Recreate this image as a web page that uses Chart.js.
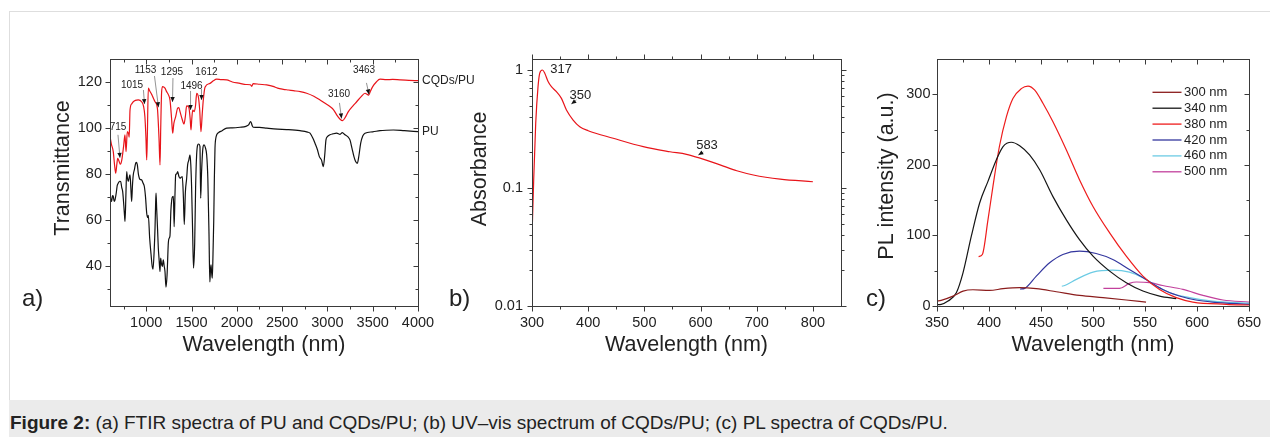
<!DOCTYPE html>
<html>
<head>
<meta charset="utf-8">
<script src="https://cdn.jsdelivr.net/npm/chart.js@4.4.1/dist/chart.umd.min.js"></script>
<style>
  body { margin: 0; width: 1270px; height: 437px; overflow: hidden; background: #fff; position: relative;
         font-family: "Liberation Sans", Arial, sans-serif; color: #222; }
  .box { position: absolute; left: 9px; top: 11px; width: 1300px; height: 440px;
         border-top: 1px solid #dedede; border-left: 1px solid #dedede; }
  .caption { position: absolute; left: 9px; top: 400px; width: 1261px; height: 37px; background: #ebebeb; }
  .caption p { margin: 0; position: absolute; left: 1px; top: 13px; font-size: 19px; line-height: 20px; white-space: nowrap; }
  canvas { position: absolute; top: 0; }
  .tag { position: absolute; font-size: 24px; line-height: 24px; top: 286px; }
</style>
</head>
<body>
<div class="box"></div>
<canvas id="figA" width="490" height="360" style="left:0"></canvas>
<canvas id="figB" width="440" height="360" style="left:430px"></canvas>
<canvas id="figC" width="410" height="360" style="left:860px"></canvas>
<div class="tag" style="left:22px">a)</div>
<div class="tag" style="left:449px">b)</div>
<div class="tag" style="left:866px">c)</div>
<div class="caption"><p><b>Figure 2:</b> (a) FTIR spectra of PU and CQDs/PU; (b) UV–vis spectrum of CQDs/PU; (c) PL spectra of CQDs/PU.</p></div>

<script>
// ------------ Dados ------------ //

// (a) FTIR
var cqdX = [600, 615, 636, 650, 663, 675, 685, 700, 715, 730, 750, 765, 777, 791, 805, 812, 821, 840, 857, 880,
    912, 949, 970, 985, 997, 1005, 1012, 1023, 1040, 1060, 1078, 1097, 1123, 1141, 1152, 1160, 1170, 1181, 1207, 1225,
    1244, 1262, 1280, 1292, 1305, 1325, 1347, 1360, 1373, 1395, 1417, 1432, 1446, 1460, 1472, 1485, 1494, 1503, 1513, 1530,
    1545, 1557, 1575, 1590, 1604, 1618, 1630, 1649, 1704, 1740, 1778, 1830, 1888, 1950, 2035, 2100, 2150, 2164, 2180, 2250,
    2330, 2400, 2450, 2513, 2570, 2624, 2700, 2771, 2850, 2918, 2970, 3028, 3070, 3102, 3140, 3168, 3200, 3231, 3280, 3323,
    3370, 3415, 3440, 3455, 3475, 3500, 3540, 3581, 3650, 3720, 3801, 3900, 4000];
var cqdT = [96.2, 93, 89.7, 84, 80.3, 84, 86.8, 85.5, 84.2, 86, 92, 97, 89.7, 98.4, 97.5, 96, 107.8, 110.5, 111.4, 112,
    112.2, 111.4, 109.5, 105, 95.5, 86.1, 96, 117.3, 116, 114.6, 113, 111.4, 108.6, 95.5, 83.9, 100, 115.8, 118, 117.3, 115.8,
    114.5, 112.2, 104, 97.7, 102, 104.9, 108.6, 108.8, 107.1, 104, 101.7, 105, 109.6, 109.5, 108.6, 104, 99.1, 104, 107.8, 107.1,
    110, 115.1, 113.6, 108, 98.4, 106, 112.2, 117.7, 119.4, 120.5, 121.2, 121, 120.9, 120, 119.4, 118.9, 118.8, 118.1, 119.3, 119,
    118.7, 118.1, 117.3, 116.8, 116.5, 116.2, 115.8, 115.1, 113.8, 112.2, 110.8, 109.3, 107.8, 105.7, 103.8, 103.2, 104.8, 107.1, 109.5, 111.4,
    113.5, 115.1, 114.6, 114.3, 116, 118, 120, 121.2, 121, 121.1, 120.9, 120.7, 120.6];

var puX = [600, 610, 618, 628, 637, 646, 655, 670, 680, 692, 705, 718, 730, 740, 753, 760, 766, 775, 784, 793,
    802, 812, 821, 830, 839, 848, 857, 870, 883, 892, 902, 913, 924, 936, 949, 965, 979, 992, 1005, 1015,
    1023, 1038, 1053, 1065, 1075, 1088, 1097, 1103, 1108, 1115, 1125, 1133, 1141, 1152, 1159, 1168, 1177, 1188, 1198, 1207,
    1218, 1230, 1244, 1253, 1262, 1272, 1281, 1290, 1300, 1308, 1318, 1325, 1336, 1347, 1360, 1373, 1385, 1398, 1410, 1420,
    1432, 1446, 1457, 1470, 1483, 1492, 1501, 1512, 1522, 1535, 1545, 1556, 1568, 1580, 1593, 1601, 1610, 1625, 1638, 1652,
    1667, 1680, 1693, 1702, 1709, 1715, 1722, 1729, 1737, 1745, 1752, 1759, 1768, 1778, 1800, 1833, 1888, 1950, 2035, 2100,
    2130, 2153, 2170, 2180, 2250, 2330, 2450, 2550, 2697, 2780, 2808, 2840, 2863, 2890, 2911, 2935, 2955, 2970, 2984, 3000,
    3028, 3060, 3102, 3140, 3165, 3194, 3225, 3249, 3272, 3293, 3310, 3330, 3348, 3367, 3390, 3415, 3500, 3581, 3650, 3728,
    3850, 4000];
var puT = [73, 68.5, 68, 70.5, 70.1, 68, 68.6, 72, 75, 76, 76.8, 76.7, 74, 72.3, 66, 62, 59.3, 70, 81, 78,
    76.7, 78.5, 79.6, 74, 68, 75, 79.6, 82, 84.6, 85, 83.9, 80, 78.1, 77.5, 77.4, 76, 74.5, 70, 63, 61,
    62, 52, 45, 40, 38.5, 47, 56.4, 66, 71.6, 65, 56, 48, 43.3, 37.5, 43.3, 41, 39.7, 42.6, 40, 37.5,
    30.7, 36, 50, 52, 53, 64, 68.5, 70, 70.2, 57, 72, 79.6, 80, 81, 79, 78.1, 78.5, 78.8, 70, 58,
    72, 78, 83.9, 86, 88.3, 84, 74, 55, 39, 50, 74, 88, 92.6, 93, 92, 69.4, 80, 91, 92.6, 91.5,
    88.3, 78, 53.5, 33, 38, 40.4, 37, 34.6, 45, 59.3, 78, 91.2, 95.5, 97, 98, 98.7, 99.9, 100, 100.3, 100.7,
    101.3, 102.8, 101, 100.3, 100.2, 99.9, 99.5, 99.3, 98.8, 98.2, 97.7, 95.5, 93.3, 90.5, 87.5, 86, 83.2, 88, 94.8, 96.2,
    97, 97.4, 97.7, 97.2, 98, 97, 96.2, 94.8, 91, 87.5, 85.5, 84.6, 88, 93.3, 96.5, 97.7, 98.3, 98.8, 99, 99.1,
    98.8, 98.4];

var ftirSeries = ['CQDs/PU', 'PU'];
var ftirTicksX = [1000, 1500, 2000, 2500, 3000, 3500, 4000];
var ftirTicksY = [40, 60, 80, 100, 120];
var ftirPeaks = ['715', '1015', '1153', '1295', '1496', '1612', '3160', '3463'];

// (b) UV-vis
var uvX = [300, 303, 306.6, 310.7, 313.7, 318.5, 322.7, 328.6, 334.6, 343.5, 352.4, 361.3, 373.2, 385, 400,
    444.5, 498, 545.5, 575, 599, 634.7, 664.5, 694, 741.7, 800];
var uvA = [0.0387, 0.117, 0.353, 0.72, 0.937, 1.0, 0.94, 0.80, 0.722, 0.655, 0.575, 0.458, 0.377, 0.331, 0.306,
    0.264, 0.224, 0.203, 0.193, 0.179, 0.157, 0.140, 0.129, 0.119, 0.113];
var uvTicksX = [300, 400, 500, 600, 700, 800];
var uvTicksY = [0.01, 0.1, 1];
var uvPeaks = ['317', '350', '583'];

// (c) PL
var plSeries = ['300 nm', '340 nm', '380 nm', '420 nm', '460 nm', '500 nm'];
var pl300X = [350, 354, 365.4, 375, 384.6, 400.6, 413.5, 429.5, 445.5, 464.7, 487, 509.6, 532, 551];
var pl300Y = [7, 8, 14, 21, 23, 22, 24.5, 26, 24.5, 20.2, 15, 11.8, 8.5, 5.6];
var pl340X = [350, 354, 360.6, 368.6, 375, 383, 391, 399, 407, 413.5, 421.5, 429.5, 439, 448.7, 461.5, 474.4, 487, 500,
    516, 532, 548, 564, 580];
var pl340Y = [2, 2.4, 7, 18.8, 47, 98.9, 146, 176.6, 207, 226, 232, 227, 214, 193, 155, 122, 94, 70.6,
    49.4, 33, 21.2, 14.1, 10.4];
var pl380X = [390, 393.6, 399, 403.8, 410, 416.7, 423, 431, 437.5, 444, 452, 461.5, 474.4, 487, 500, 516, 532, 548,
    564, 580, 596, 628, 650];
var pl380Y = [70, 73, 122, 169.5, 226, 268, 294, 308, 311.7, 306, 287, 261, 221, 179, 141, 103.6, 70.6, 42.4,
    23.5, 11.8, 5.6, 2.4, 1.4];
var pl420X = [430, 434.3, 445.5, 458.3, 471, 487, 503, 519, 535, 551, 567, 583, 599, 615, 650];
var pl420Y = [24, 25, 42.4, 61.2, 73, 77.7, 74.4, 66, 51.8, 37.7, 23.5, 14.1, 8.5, 5.6, 2.4];
var pl460X = [470, 472.8, 484, 500, 519, 535, 548, 561, 573.7, 593, 615, 650];
var pl460Y = [28, 29, 37.7, 48, 50.8, 48, 40, 28.2, 18.8, 11.8, 7, 3.8];
var pl500X = [510, 512, 525.6, 535, 541.7, 554.5, 567, 586.5, 605.8, 625, 650];
var pl500Y = [25, 25, 25, 32, 34, 33, 29, 23.5, 15, 8.5, 5.6];
var plTicksX = [350, 400, 450, 500, 550, 600, 650];
var plTicksY = [0, 100, 200, 300];

// ------------ Utilidades ------------ //

var FONT = '"Liberation Sans", Arial, sans-serif';
var INK = '#222';

function pontos(xs, ys) {
    return xs.map(function (v, i) { return { x: v, y: ys[i] }; });
}

function serie(label, xs, ys, cor) {
    return {
        label: label, data: pontos(xs, ys), borderColor: cor, borderWidth: 1.2,
        pointRadius: 0, fill: false, cubicInterpolationMode: 'monotone'
    };
}

function passos(ini, fim, passo) {
    var r = [];
    for (var v = ini; v <= fim + 1e-9; v += passo) r.push(v);
    return r;
}

function seta(ctx, x1, y1, x2, y2) {
    ctx.strokeStyle = '#777';
    ctx.lineWidth = 0.8;
    ctx.beginPath(); ctx.moveTo(x1, y1); ctx.lineTo(x2, y2); ctx.stroke();
    var ang = Math.atan2(y2 - y1, x2 - x1), L = 5, W = 2.2;
    ctx.fillStyle = '#111';
    ctx.beginPath();
    ctx.moveTo(x2, y2);
    ctx.lineTo(x2 - L * Math.cos(ang) + W * Math.sin(ang), y2 - L * Math.sin(ang) - W * Math.cos(ang));
    ctx.lineTo(x2 - L * Math.cos(ang) - W * Math.sin(ang), y2 - L * Math.sin(ang) + W * Math.cos(ang));
    ctx.closePath(); ctx.fill();
}

// moldura com ticks maiores e menores + título do eixo y
var molduraPlugin = {
    id: 'moldura',
    afterDraw: function (chart, args, o) {
        var ctx = chart.ctx, a = chart.chartArea, sx = chart.scales.x, sy = chart.scales.y;
        var L = Math.round(a.left) + 0.5, R = Math.round(a.right) + 0.5;
        var T = Math.round(a.top) + 0.5, B = Math.round(a.bottom) + 0.5;
        var up = o.foraTopo ? -1 : 1, dir = o.foraDireita ? 1 : -1;
        ctx.save();
        ctx.strokeStyle = '#3a3a3a';
        ctx.lineWidth = 1;
        ctx.strokeRect(L, T, R - L, B - T);
        function linha(x1, y1, x2, y2) { ctx.beginPath(); ctx.moveTo(x1, y1); ctx.lineTo(x2, y2); ctx.stroke(); }
        function tx(v, len) {
            var p = Math.round(sx.getPixelForValue(v)) + 0.5;
            linha(p, B, p, B + len);
            linha(p, T, p, T + up * len);
        }
        function ty(v, len) {
            var p = Math.round(sy.getPixelForValue(v)) + 0.5;
            linha(L, p, L - len, p);
            linha(R, p, R + dir * len, p);
        }
        o.xMaior.forEach(function (v) { tx(v, 5); });
        o.xMenor.forEach(function (v) { tx(v, 3); });
        o.yMaior.forEach(function (v) { ty(v, 5); });
        o.yMenor.forEach(function (v) { ty(v, 3); });
        if (o.tituloY) {
            ctx.translate(o.tituloY.x, o.tituloY.y);
            ctx.rotate(-Math.PI / 2);
            ctx.font = '21.5px ' + FONT;
            ctx.fillStyle = INK;
            ctx.textAlign = 'center';
            ctx.textBaseline = 'middle';
            ctx.fillText(o.tituloY.texto, 0, 0);
        }
        ctx.restore();
    }
};

// anotações de picos com setas
var notasPlugin = {
    id: 'notas',
    afterDraw: function (chart, args, o) {
        if (!o.itens) return;
        var ctx = chart.ctx, sx = chart.scales.x, sy = chart.scales.y;
        ctx.save();
        ctx.font = o.tamanho + 'px ' + FONT;
        ctx.textAlign = 'center';
        ctx.textBaseline = 'middle';
        o.itens.forEach(function (n) {
            if (n.cauda) {
                seta(ctx, sx.getPixelForValue(n.cauda[0]), sy.getPixelForValue(n.cauda[1]),
                    sx.getPixelForValue(n.ponta[0]), sy.getPixelForValue(n.ponta[1]));
            }
            ctx.fillStyle = INK;
            ctx.fillText(n.texto, sx.getPixelForValue(n.em[0]), sy.getPixelForValue(n.em[1]));
        });
        // rótulo no fim de cada série
        if (o.fimSerie) {
            ctx.textAlign = 'left';
            ctx.font = '12px ' + FONT;
            chart.data.datasets.forEach(function (d) {
                var ult = d.data[d.data.length - 1];
                ctx.fillStyle = INK;
                ctx.fillText(d.label, chart.chartArea.right + 4, sy.getPixelForValue(ult.y));
            });
        }
        ctx.restore();
    }
};

// legenda interna do painel c
var legendaPlugin = {
    id: 'legenda',
    afterDraw: function (chart, args, o) {
        if (!o.mostrar) return;
        var ctx = chart.ctx, a = chart.chartArea;
        var x0 = a.right - 96.5, y0 = a.top + 33.3;
        ctx.save();
        ctx.font = '13px ' + FONT;
        ctx.textBaseline = 'middle';
        ctx.textAlign = 'left';
        chart.data.datasets.forEach(function (d, i) {
            var y = y0 + i * 15.9;
            ctx.strokeStyle = d.borderColor;
            ctx.lineWidth = 1.3;
            ctx.beginPath(); ctx.moveTo(x0, y); ctx.lineTo(x0 + 29, y); ctx.stroke();
            ctx.fillStyle = INK;
            ctx.fillText(d.label, x0 + 31.5, y);
        });
        ctx.restore();
    }
};

function eixo(tipo, min, max, marcas, extra) {
    var e = {
        type: tipo, min: min, max: max,
        grid: { display: false, drawTicks: false },
        border: { display: false },
        ticks: {
            font: { size: 14.5, family: FONT }, color: INK, autoSkip: false, maxRotation: 0, padding: 8,
            callback: function (v) { return String(v); }
        },
        afterBuildTicks: function (s) { s.ticks = marcas.map(function (v) { return { value: v }; }); },
        title: { display: true, font: { size: 21.5, family: FONT }, color: INK }
    };
    for (var k in extra) {
        if (k === 'ticks' || k === 'title') Object.assign(e[k], extra[k]); else e[k] = extra[k];
    }
    return e;
}

function opcoes(pad, largY, altX, escalas, extras) {
    var plugins = { legend: { display: false }, tooltip: { enabled: false } };
    Object.assign(plugins, extras);
    escalas.y.afterFit = function (s) { s.width = largY; };
    escalas.x.afterFit = function (s) { s.height = altX; };
    return {
        responsive: false, animation: false, events: [],
        layout: { padding: pad },
        plugins: plugins,
        scales: escalas
    };
}

// ------------ Painel a ------------ //

new Chart(document.getElementById('figA'), {
    type: 'line',
    data: {
        datasets: [
            serie(ftirSeries[0], cqdX, cqdT, '#e8141a'),
            serie(ftirSeries[1], puX, puT, '#111111')
        ]
    },
    options: opcoes({ top: 59, right: 72, left: 0, bottom: 0 }, 110, 54, {
        x: eixo('linear', 600, 4000, ftirTicksX, { title: { text: 'Wavelength (nm)', padding: { top: 0, bottom: 2.4 } } }),
        y: eixo('linear', 22.5, 130, ftirTicksY, { title: { display: false } })
    }, {
        moldura: {
            xMaior: ftirTicksX, xMenor: passos(750, 3750, 500),
            yMaior: ftirTicksY, yMenor: [30, 50, 70, 90, 110],
            foraTopo: false, foraDireita: false,
            tituloY: { texto: 'Transmittance', x: 63, y: 168 }
        },
        notas: {
            tamanho: 10, fimSerie: true,
            itens: [
                { texto: ftirPeaks[0], em: [688, 100.2], cauda: [688, 97], ponta: [710, 87] },
                { texto: ftirPeaks[1], em: [843, 118.5], cauda: [969, 116.5], ponta: [981, 110.4] },
                { texto: ftirPeaks[2], em: [992, 125], cauda: [1091, 122.6], ponta: [1135, 109] },
                { texto: ftirPeaks[3], em: [1284, 124.1], cauda: [1295, 121.7], ponta: [1290, 111.3] },
                { texto: ftirPeaks[4], em: [1500, 118.3], cauda: [1489, 116.1], ponta: [1489, 107.8] },
                { texto: ftirPeaks[5], em: [1665, 124.1], cauda: [1610, 117], ponta: [1610, 112.2] },
                { texto: ftirPeaks[6], em: [3128, 114.6], cauda: [3133, 110.9], ponta: [3156, 104.1] },
                { texto: ftirPeaks[7], em: [3404, 125.2], cauda: [3431, 119.6], ponta: [3459, 114.6] }
            ]
        }
    }),
    plugins: [molduraPlugin, notasPlugin]
});

// ------------ Painel b ------------ //

var menoresLog = [];
[0.01, 0.1].forEach(function (d) { for (var k = 2; k <= 9; k++) menoresLog.push(d * k); });

new Chart(document.getElementById('figB'), {
    type: 'line',
    data: { datasets: [serie('CQDs/PU', uvX, uvA, '#e8141a')] },
    options: opcoes({ top: 59, right: 29, left: 0, bottom: 0 }, 102, 54, {
        x: eixo('linear', 300, 850, uvTicksX, { title: { text: 'Wavelength (nm)', padding: { top: 0, bottom: 2.4 } } }),
        y: eixo('logarithmic', 0.01, 1.24, uvTicksY, {
            ticks: { padding: 9 },
            title: { display: false }
        })
    }, {
        moldura: {
            xMaior: uvTicksX, xMenor: passos(350, 750, 100),
            yMaior: uvTicksY, yMenor: menoresLog,
            foraTopo: true, foraDireita: true,
            tituloY: { texto: 'Absorbance', x: 50, y: 169 }
        },
        notas: {
            tamanho: 13,
            itens: [
                { texto: uvPeaks[0], em: [352, 1.01] },
                { texto: uvPeaks[1], em: [386, 0.614], cauda: [379, 0.557], ponta: [370, 0.515] },
                { texto: uvPeaks[2], em: [611.5, 0.231], cauda: [605, 0.202], ponta: [596, 0.19] }
            ]
        }
    }),
    plugins: [molduraPlugin, notasPlugin]
});

// ------------ Painel c ------------ //

new Chart(document.getElementById('figC'), {
    type: 'line',
    data: {
        datasets: [
            serie(plSeries[0], pl300X, pl300Y, '#8b1c1c'),
            serie(plSeries[1], pl340X, pl340Y, '#151515'),
            serie(plSeries[2], pl380X, pl380Y, '#ee1c1c'),
            serie(plSeries[3], pl420X, pl420Y, '#33369e'),
            serie(plSeries[4], pl460X, pl460Y, '#6ccbe4'),
            serie(plSeries[5], pl500X, pl500Y, '#c2409c')
        ]
    },
    options: opcoes({ top: 59, right: 21, left: 0, bottom: 0 }, 77, 54, {
        x: eixo('linear', 350, 650, plTicksX, { title: { text: 'Wavelength (nm)', padding: { top: 0, bottom: 2.4 } } }),
        y: eixo('linear', 0, 350, plTicksY, {
            ticks: { padding: 6.5 },
            title: { display: false }
        })
    }, {
        moldura: {
            xMaior: plTicksX, xMenor: passos(375, 625, 50),
            yMaior: plTicksY, yMenor: [50, 150, 250],
            foraTopo: false, foraDireita: false,
            tituloY: { texto: 'PL intensity (a.u.)', x: 27, y: 176 }
        },
        legenda: { mostrar: true }
    }),
    plugins: [molduraPlugin, legendaPlugin]
});
</script>
</body>
</html>
